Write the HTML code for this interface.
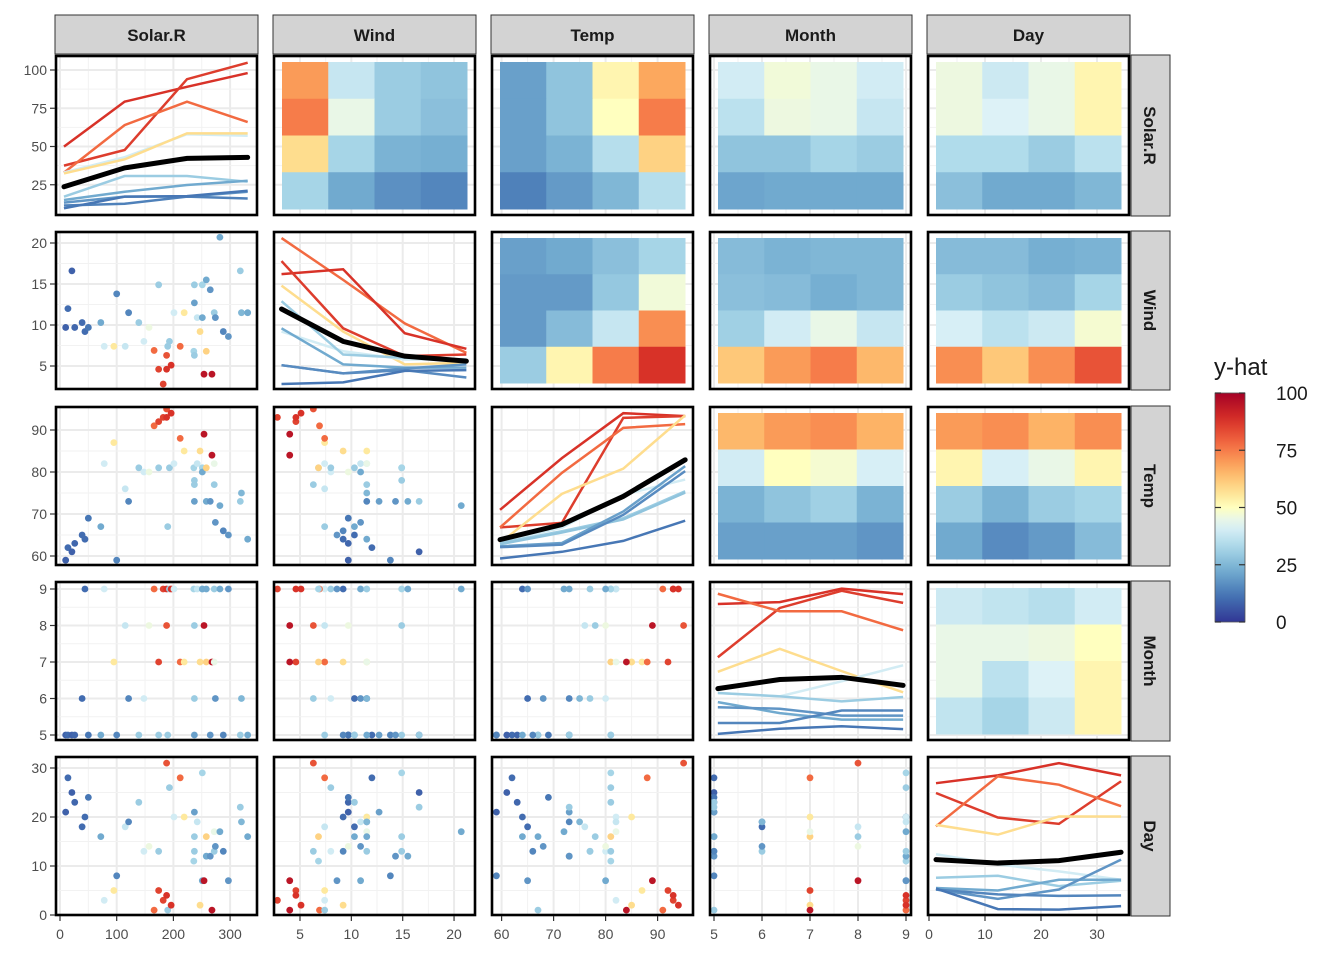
<!DOCTYPE html>
<html><head><meta charset="utf-8"><style>
html,body{margin:0;padding:0;background:#fff;}
svg{display:block;font-family:"Liberation Sans",Arial,sans-serif;}
</style></head><body>
<svg id="chart" width="1344" height="960" viewBox="0 0 1344 960"></svg>
<script>
// ---------- data ----------
const varNames = ["Solar.R","Wind","Temp","Month","Day"];
// observations: solar, wind, temp, month, day, yhat
const obsSolar = [10,14,21,26,44,39,50,72,78,95,100,115,121,139,148,157,166,174,174,182,188,188,190,193,196,201,212,219,236,237,237,237,242,247,251,251,254,258,258,265,268,272,272,274,282,288,297,318,320,331];
const obsWind  = [9.7,12,16.6,9.7,9.2,10.3,9.7,10.3,7.4,7.4,13.8,7.4,11.5,10.3,8.0,9.7,6.9,14.9,4.6,2.8,6.3,4.6,7.4,8.0,5.1,11.5,7.4,11.5,6.8,14.9,6.3,12.7,10.9,9.2,14.9,10.9,4.0,6.8,15.5,14.3,4.0,11.5,11.5,10.9,20.7,9.2,8.6,16.6,11.5,11.5];
const obsTemp  = [59,62,61,63,64,65,69,67,82,87,59,76,73,81,80,80,91,81,92,93,95,93,67,81,94,82,88,85,81,78,77,73,82,85,81,80,89,81,73,73,84,82,77,68,72,66,65,73,75,64];
const obsMonth = [5,5,5,5,9,6,5,5,9,7,5,8,6,5,6,8,9,5,7,9,8,9,5,9,9,9,7,7,9,8,6,5,9,7,9,9,8,7,9,5,7,7,9,6,9,5,9,5,6,5];
const obsDay   = [21,28,25,23,20,18,24,16,3,5,8,18,19,23,13,14,1,13,5,3,31,4,1,26,2,20,28,20,11,16,13,21,19,2,29,7,7,16,12,12,1,17,13,14,17,13,7,22,19,16];
const obsYhat  = [8,10,8,9,10,10,12,22,40,55,15,38,15,30,40,46,78,30,85,85,82,88,30,30,88,40,78,55,32,30,30,20,38,58,32,22,95,60,22,18,95,45,30,18,22,15,18,30,25,22];

// ICE line grid positions per variable
const gridSolar = [7,114,224,331];
const gridWind = [3.2,9.2,15.2,21.2];
const gridTemp = [59.7,71.6,83.4,95.3];
const gridMonth = [5.08,6.37,7.66,8.94];
const gridDay = [1.25,12.3,23.2,34.3];

// diagonal line series (values) and their yhat colour level
const solarLines = [[49.9,79.3,89,98],[37.5,47.7,94,104.8],[32.9,64,79.3,66],[33,43,58,57],[32.4,41.6,58.6,58.6],[17.2,30.7,30.7,27],[15,20.4,24.8,27.6],[13.3,17.2,17.2,20.4],[11.4,12.6,17.2,16],[9.6,17.2,17.6,21.1]];
const solarLineLevels = [88,86,78,40,58,30,22,18,14,12];
const solarMean = [23.7,36,42.2,42.9];

const windLines = [[20.6,15.5,10.2,6.6],[16.2,16.8,9.0,7.1],[17.8,9.6,6.2,6.4],[14.8,9.2,5.2,5.4],[9.2,6.8,5.8,5.8],[12.9,6.4,6.0,5.8],[9.6,5.2,4.8,4.8],[5.1,4.1,4.7,5.2],[5.1,4.1,4.5,3.6],[2.8,3.0,4.4,4.5]];
const windLineLevels = [78,88,86,58,40,30,22,18,16,12];
const windMean = [11.95,8.0,6.2,5.6];

const tempLines = [[71.0,83.3,94.0,93.3],[66.8,67.9,92.9,93.3],[66.8,79.8,90.5,91.4],[63.1,74.8,80.8,93.5],[63.5,66.7,74.6,78.2],[63.1,65.9,69.0,75.4],[62.8,65.6,68.7,75.1],[62.3,63.1,70.6,81.4],[62.1,62.7,69.8,80.2],[59.4,61,63.6,68.4]];
const tempLineLevels = [88,86,78,58,40,30,28,20,16,12];
const tempMean = [63.9,67.5,74.2,82.9];

const monthLines = [[8.59,8.64,9.01,8.86],[7.13,8.48,8.95,8.62],[8.87,8.39,8.39,7.87],[6.73,7.36,6.75,6.17],[6.15,6.06,6.47,6.91],[6.15,6.06,5.92,6.04],[5.9,5.6,5.42,5.42],[5.76,5.72,5.53,5.53],[5.33,5.33,5.67,5.67],[5.03,5.17,5.24,5.16]];
const monthLineLevels = [88,86,78,58,40,30,22,18,15,12];
const monthMean = [6.27,6.52,6.58,6.36];

const dayLines = [[26.9,28.5,31.0,28.5],[24.9,19.9,18.6,27.3],[18.1,28.3,26.6,22.2],[18.4,16.4,20.1,20.1],[12.4,10.3,8.9,7.2],[7.6,8.0,5.9,7.0],[5.5,5.0,7.2,7.2],[5.2,3.3,5.2,11.3],[5.2,4.2,3.9,4.0],[5.4,1.2,1.1,1.8]];
const dayLineLevels = [88,86,78,58,40,30,22,18,15,12];
const dayMean = [11.3,10.6,11.1,12.8];

// heatmap cells (rows top->bottom, cols left->right), yhat values
const heatSolarWind = [[70,38,30,28],[75,45,30,27],[58,32,24,23],[32,22,17,15]];
const heatSolarTemp = [[20,28,52,68],[20,28,50,75],[20,24,35,60],[14,19,25,35]];
const heatSolarMonth = [[40,47,45,40],[36,46,45,38],[28,28,32,30],[21,22,22,22]];
const heatSolarDay = [[46,39,45,52],[46,42,45,52],[34,34,30,36],[27,22,22,25]];
const heatWindTemp = [[20,22,27,32],[19,19,29,47],[19,26,38,72],[30,52,75,88]];
const heatWindMonth = [[26,24,25,25],[27,26,23,25],[31,40,45,38],[62,70,75,65]];
const heatWindDay = [[26,26,23,24],[30,28,26,32],[41,36,39,48],[72,62,72,82]];
const heatTempMonth = [[65,70,72,66],[40,50,48,41],[24,28,31,24],[20,20,20,18]];
const heatTempDay = [[70,72,66,72],[52,41,45,52],[30,24,30,32],[22,16,19,26]];
const heatMonthDay = [[39,37,35,40],[45,45,46,50],[45,36,42,52],[37,32,39,52]];

// tick labels
const ticksYhat = [25,50,75,100];
const ticksSolar = [0,100,200,300];
const ticksWind = [5,10,15,20];
const ticksTemp = [60,70,80,90];
const ticksMonth = [5,6,7,8,9];
const ticksDay = [0,10,20,30];
const legendTicks = [0,25,50,75,100];

// ---------- layout ----------
const NS = "http://www.w3.org/2000/svg";
const svg = document.getElementById("chart");
const colX = [[56,257],[274,475],[492,693],[710,911],[928,1129]];
const rowY = [[56,215],[232,389],[407,565],[582,740],[757,915]];

const xScale = [
  s => 60 + s*0.567,
  w => 300 + (w-5)*10.27,
  t => 501.6 + (t-60)*5.2,
  m => 714 + (m-5)*48,
  d => 929 + d*5.6
];
const yScale = [
  v => 223 - v*1.53,
  w => 366 - (w-5)*8.2,
  t => 556 - (t-60)*4.2,
  m => 589 + (9-m)*36.5,
  d => 915 - d*4.9
];
const obsCols = [obsSolar,obsWind,obsTemp,obsMonth,obsDay];
const grids = [gridSolar,gridWind,gridTemp,gridMonth,gridDay];
const diagLines = [solarLines,windLines,tempLines,monthLines,dayLines];
const diagLevels = [solarLineLevels,windLineLevels,tempLineLevels,monthLineLevels,dayLineLevels];
const diagMeans = [solarMean,windMean,tempMean,monthMean,dayMean];
const heats = {"0-1":heatSolarWind,"0-2":heatSolarTemp,"0-3":heatSolarMonth,"0-4":heatSolarDay,"1-2":heatWindTemp,"1-3":heatWindMonth,"1-4":heatWindDay,"2-3":heatTempMonth,"2-4":heatTempDay,"3-4":heatMonthDay};
const xTicks = [ticksSolar,ticksWind,ticksTemp,ticksMonth,ticksDay];
const yTicks = [ticksYhat,ticksWind,ticksTemp,ticksMonth,ticksDay];

const stops = ["#313695","#4575b4","#74add1","#abd9e9","#e0f3f8","#ffffbf","#fee090","#fdae61","#f46d43","#d73027","#a50026"];
function hex(h){return [parseInt(h.substr(1,2),16),parseInt(h.substr(3,2),16),parseInt(h.substr(5,2),16)];}
function warp(v){
  const t=(v-50)/50; return 50 + 50*Math.sign(t)*Math.pow(Math.abs(t),0.85);
}
function rawColor(p0){
  const p = Math.max(0,Math.min(100,p0))/10, i = Math.min(9,Math.floor(p)), f = p-i;
  const a = hex(stops[i]), b = hex(stops[i+1]);
  return "rgb("+a.map((c,k)=>Math.round(c+(b[k]-c)*f)).join(",")+")";
}
function colorOf(v){ return rawColor(warp(Math.max(0,Math.min(100,v)))); }
function el(tag, attrs, parent){
  const e = document.createElementNS(NS, tag);
  for (const k in attrs) e.setAttribute(k, attrs[k]);
  (parent||svg).appendChild(e);
  return e;
}

for (let r=0;r<5;r++){
  for (let c=0;c<5;c++){
    const [x0,x1] = colX[c], [y0,y1] = rowY[r];
    const g = el("g",{});
    
    
    const clipId = "clip"+r+c;
    const cp = el("clipPath",{id:clipId},g);
    el("rect",{x:x0,y:y0,width:x1-x0,height:y1-y0},cp);
    el("rect",{x:x0,y:y0,width:x1-x0,height:y1-y0,fill:"#fff"},g);
    const inner = el("g",{"clip-path":"url(#"+clipId+")"},g);
    const xt = xTicks[c], yt = yTicks[r];
    for (let i=0;i<xt.length;i++){
      const xx = xScale[c](xt[i]);
      el("line",{x1:xx,x2:xx,y1:y0,y2:y1,stroke:"#ebebeb","stroke-width":2},inner);
      if (i<xt.length-1){const xm=(xx+xScale[c](xt[i+1]))/2; el("line",{x1:xm,x2:xm,y1:y0,y2:y1,stroke:"#f2f2f2","stroke-width":1},inner);}
    }
    for (let i=0;i<yt.length;i++){
      const yy = yScale[r](yt[i]);
      el("line",{x1:x0,x2:x1,y1:yy,y2:yy,stroke:"#ebebeb","stroke-width":2},inner);
      if (i<yt.length-1){const ym=(yy+yScale[r](yt[i+1]))/2; el("line",{x1:x0,x2:x1,y1:ym,y2:ym,stroke:"#f2f2f2","stroke-width":1},inner);}
    }
    if (r===c){
      const xs = grids[c].map(xScale[c]);
      diagLines[r].forEach((vals,k)=>{
        const pts = vals.map((v,i)=>xs[i]+","+yScale[r](v)).join(" ");
        const pl = el("polyline",{points:pts,fill:"none",stroke:colorOf(diagLevels[r][k]),"stroke-width":2.5},inner);
        
        
      });
      const mp = diagMeans[r].map((v,i)=>xs[i]+","+yScale[r](v)).join(" ");
      const ml = el("polyline",{points:mp,fill:"none",stroke:"#000","stroke-width":5,"stroke-linecap":"round"},inner);
      
      
    } else if (c>r){
      const cells = heats[r+"-"+c];
      const hx0=x0+8, hx1=x1-8, hy0=y0+6, hy1=y1-6;
      const cw=(hx1-hx0)/4, ch=(hy1-hy0)/4;
      for (let i=0;i<4;i++) for (let j=0;j<4;j++){
        const rc = el("rect",{x:hx0+j*cw,y:hy0+i*ch,width:cw+0.5,height:ch+0.5,fill:colorOf(cells[i][j])},inner);
        
        
      }
    } else {
      const xv = obsCols[c], yv = obsCols[r];
      for (let i=0;i<xv.length;i++){
        const pt = el("circle",{cx:xScale[c](xv[i]),cy:yScale[r](yv[i]),r:3.4,fill:colorOf(obsYhat[i])},inner);
        
        
      }
    }
    el("rect",{x:x0,y:y0,width:x1-x0,height:y1-y0,fill:"none",stroke:"#000","stroke-width":2.6},g);
  }
}

varNames.forEach((n,c)=>{
  const [x0,x1]=colX[c];
  const g = el("g",{});
  
  
  el("rect",{x:x0-1,y:15,width:x1-x0+2,height:39,fill:"#d3d3d3",stroke:"#333","stroke-width":1},g);
  const t = el("text",{x:(x0+x1)/2,y:41,"text-anchor":"middle","font-size":17,"font-weight":"bold",fill:"#1a1a1a"},g);
  t.textContent = n;
});
varNames.forEach((n,r)=>{
  const [y0,y1]=rowY[r];
  const g = el("g",{});
  
  
  el("rect",{x:1131,y:y0-1,width:39,height:y1-y0+2,fill:"#d3d3d3",stroke:"#333","stroke-width":1},g);
  const cy=(y0+y1)/2;
  const t = el("text",{x:1144,y:cy,"text-anchor":"middle","font-size":17,"font-weight":"bold",fill:"#1a1a1a",transform:"rotate(90 1144 "+cy+")"},g);
  t.textContent = n;
});

for (let r=0;r<5;r++){
  const g = el("g",{});
  
  
  yTicks[r].forEach(v=>{
    const yy=yScale[r](v);
    el("line",{x1:50,x2:55,y1:yy,y2:yy,stroke:"#333","stroke-width":1.2},g);
    const t=el("text",{x:47,y:yy+5,"text-anchor":"end","font-size":14,fill:"#4d4d4d"},g);
    t.textContent=v;
  });
}
for (let c=0;c<5;c++){
  const g = el("g",{});
  
  
  xTicks[c].forEach(v=>{
    const xx=xScale[c](v);
    el("line",{x1:xx,x2:xx,y1:916,y2:921,stroke:"#333","stroke-width":1.2},g);
    const t=el("text",{x:xx,y:939,"text-anchor":"middle","font-size":14,fill:"#4d4d4d"},g);
    t.textContent=v;
  });
}

// legend
const lg = el("g",{});


const lt = el("text",{x:1214,y:375,"font-size":24,fill:"#1a1a1a"},lg);


lt.textContent = "y-hat";
const defs = el("defs",{},lg);
const grad = el("linearGradient",{id:"lgrad",x1:0,y1:1,x2:0,y2:0},defs);
for (let i=0;i<=20;i++){ el("stop",{offset:(i/20),"stop-color":colorOf(i*5)},grad); }
const lb = el("rect",{x:1215,y:393,width:30,height:229,fill:"url(#lgrad)",stroke:"#555","stroke-width":0.8},lg);


legendTicks.forEach(v=>{
  const yy = 622 - v*2.29;
  el("line",{x1:1215,x2:1221,y1:yy,y2:yy,stroke:"#333","stroke-width":1.2},lg);
  el("line",{x1:1239,x2:1245,y1:yy,y2:yy,stroke:"#333","stroke-width":1.2},lg);
  const t=el("text",{x:1276,y:yy+7,"font-size":19,fill:"#1a1a1a"},lg);
  
  
  t.textContent=v;
});
</script>
</body></html>
